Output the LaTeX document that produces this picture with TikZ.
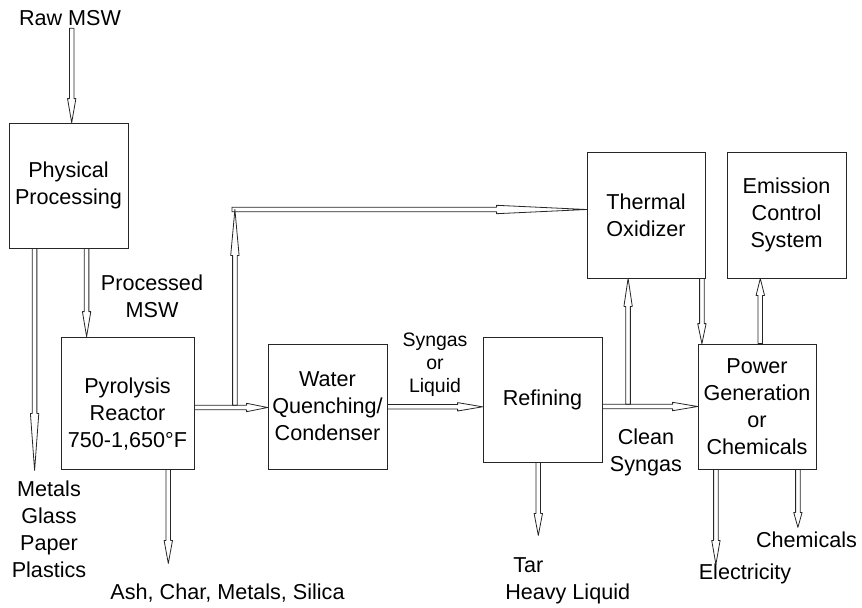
\documentclass[tikz,border=0pt]{standalone}
\usepackage{fontspec}
\setmainfont{Liberation Sans}
\usetikzlibrary{calc}
\newcommand\fahalfshaft{1.7pt}
\newcommand\fahalfhead{3.15pt}
\newcommand\flowarrow[3]{%
  \coordinate (fa-b) at ($(#2)!#3*0.75pt!(#1)$);
  \draw[arrowline] ($(#1)!\fahalfshaft!90:(#2)$) -- ($(fa-b)!\fahalfshaft!90:(#2)$)
    -- ($(fa-b)!\fahalfhead!90:(#2)$) -- (#2) -- ($(fa-b)!\fahalfhead!-90:(#2)$)
    -- ($(fa-b)!\fahalfshaft!-90:(#2)$) -- ($(#1)!\fahalfshaft!-90:(#2)$) -- cycle;}
\begin{document}
\begin{tikzpicture}[x=0.75pt,y=-0.75pt,
  mainfont/.style={font=\fontsize{16.2}{20.25}\selectfont},
  smallfont/.style={font=\fontsize{14.6}{17.25}\selectfont},
  box/.style={draw=black!85, line width=0.6pt, inner sep=0pt, align=center, mainfont},
  txt/.style={inner sep=0pt, align=center, mainfont, anchor=north},
  arrowline/.style={draw=black!85, line width=0.6pt, line join=round}]
\useasboundingbox (0,0) rectangle (862,607);
% boxes
\node[box, minimum width=89.25pt, minimum height=93.75pt] (pp) at (68.5,185.5) {Physical\\Processing};
\node[box, minimum width=99.75pt, minimum height=99pt] (pyr) at (127.5,403) {};
\node[txt] (pyrt) at (127.5,378) {Pyrolysis\\Reactor\\750-1,650°F};
\node[box, minimum width=89.25pt, minimum height=93.75pt] (wq) at (327.5,406.5) {Water\\Quenching/\\Condenser};
\node[box, minimum width=89.25pt, minimum height=93.75pt] (ref) at (542.5,399.5) {Refining};
\node[box, minimum width=88.5pt, minimum height=94.5pt] (to) at (646,215) {Thermal\\Oxidizer};
\node[box, minimum width=89.25pt, minimum height=94.5pt] (ecs) at (786.5,215) {Emission\\Control\\System};
\node[box, minimum width=88.5pt, minimum height=93.75pt] (pg) at (757,406.5) {Power\\Generation\\or\\Chemicals};
% labels
\node[txt] (raw) at (70,10) {Raw MSW};
\node[txt] (metals) at (49,481) {Metals\\Glass\\Paper\\Plastics};
\node[txt] (processed) at (152,275) {Processed\\MSW};
\node[txt] (ash) at (227.5,583.5) {Ash, Char, Metals, Silica};
\node[txt, smallfont] (syngas) at (435,333) {Syngas\\or\\Liquid};
\node[txt] (clean) at (646,429) {Clean\\Syngas};
\node[txt, anchor=north west, align=left] (tar) at (505,557.5) {\hspace*{6pt}Tar\\Heavy Liquid};
\node[txt] (elec) at (745,563.5) {Electricity};
\node[txt] (chem) at (806.5,531.5) {Chemicals};
% arrow end points
\coordinate (a1s) at ($(raw.south)+(1.7,2.5)$);
\coordinate (a1e) at (pp.north -| a1s);
\coordinate (a2s) at ($(pp.south west)+(26,0)$);
\coordinate (a2e) at ($(a2s)+(0,222)$);
\coordinate (a3s) at ($(pp.south west)+(78,0)$);
\coordinate (a3e) at (pyr.north -| a3s);
\coordinate (a4s) at ($(pyr.east)+(0,4.5)$);
\coordinate (a4e) at (wq.west |- a4s);
\coordinate (jn1) at ($(a4s)+(40.5,-2.2)$);
\coordinate (tk) at ($(jn1)+(0,-195.8)$);
\coordinate (a6s) at ($(tk)+(-3,0)$);
\coordinate (a6e) at (to.west |- tk);
\coordinate (a15s) at ($(wq.east)+(0,0.3)$);
\coordinate (a15e) at (ref.west |- a15s);
\coordinate (a7s) at ($(ref.east)+(0,7)$);
\coordinate (a7e) at (pg.west |- a7s);
\coordinate (jn2) at ($(a7s)+(25.7,-2.2)$);
\coordinate (a8e) at (to.south -| jn2);
\coordinate (a9s) at ($(to.south east)+(-3.5,0)$);
\coordinate (a9e) at (pg.north -| a9s);
\coordinate (a10s) at ($(pg.north)+(3.3,0)$);
\coordinate (a10e) at (ecs.south -| a10s);
\coordinate (a11s) at ($(ref.south)+(-4.2,0)$);
\coordinate (a11e) at ($(a11s)+(0,73)$);
\coordinate (a12s) at ($(pg.south west)+(18.3,0)$);
\coordinate (a12e) at ($(a12s)+(0,95)$);
\coordinate (a13s) at ($(pg.south east)+(-18.5,0)$);
\coordinate (a13e) at ($(a13s)+(0,58)$);
\coordinate (a14s) at ($(pyr.south)+(40.8,0)$);
\coordinate (a14e) at ($(a14s)+(0,94)$);
% arrows
\flowarrow{a1s}{a1e}{24}
\flowarrow{a2s}{a2e}{57}
\flowarrow{a3s}{a3e}{25}
\flowarrow{a4s}{a4e}{21}
\flowarrow{jn1}{tk}{46}
\flowarrow{a6s}{a6e}{90}
\flowarrow{a15s}{a15e}{25}
\flowarrow{a7s}{a7e}{25}
\flowarrow{jn2}{a8e}{28}
\flowarrow{a9s}{a9e}{20}
\flowarrow{a10s}{a10e}{17}
\flowarrow{a11s}{a11e}{22}
\flowarrow{a12s}{a12e}{24}
\flowarrow{a13s}{a13e}{15}
\flowarrow{a14s}{a14e}{23}
\end{tikzpicture}
\end{document}
